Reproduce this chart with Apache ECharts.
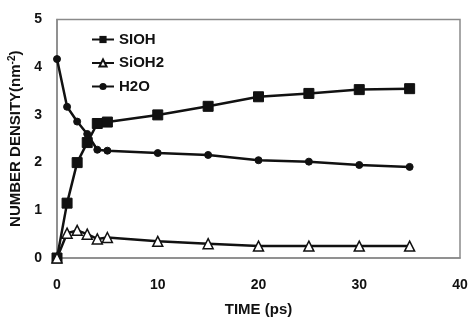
<!DOCTYPE html>
<html>
<head>
<meta charset="utf-8">
<script src="https://cdn.jsdelivr.net/npm/echarts@6/dist/echarts.min.js"></script>
<style>
  html, body { margin: 0; padding: 0; background: #fff; }
  #chart { width: 470px; height: 323px; }
</style>
</head>
<body>
<div id="chart"></div>
<script>
// Simulation time (ps) and surface number densities (nm^-2)
const times = [0, 1, 2, 3, 4, 5, 10, 15, 20, 25, 30, 35];
const sioh  = [0, 1.15, 2.0, 2.42, 2.82, 2.85, 3.0, 3.18, 3.38, 3.45, 3.53, 3.55];
const sioh2 = [0, 0.52, 0.58, 0.5, 0.4, 0.43, 0.35, 0.3, 0.25, 0.25, 0.25, 0.25];
const h2o   = [4.17, 3.17, 2.86, 2.6, 2.27, 2.25, 2.2, 2.16, 2.05, 2.02, 1.95, 1.91];

const xTicks = [0, 10, 20, 30, 40];
const yTicks = [0, 1, 2, 3, 4, 5];

const pairs = (ys) => times.map((t, i) => [t, ys[i]]);
const font = 'Liberation Sans, Arial, sans-serif';

const chart = echarts.init(document.getElementById('chart'));
chart.setOption({
  animation: false,
  grid: {
    left: 57, right: 10, top: 19.5, bottom: 65,
    outerBoundsMode: 'none',
    show: true, borderColor: '#8a8a8a', borderWidth: 1.5
  },
  legend: {
    orient: 'vertical',
    left: 86, top: 27,
    itemWidth: 22, itemHeight: 9, itemGap: 8.5,
    textStyle: { fontFamily: font, fontWeight: 'bold', fontSize: 15, color: '#111' },
    data: ['SIOH', 'SiOH2', 'H2O']
  },
  xAxis: {
    type: 'value', min: 0, max: 40, interval: 10,
    name: 'TIME (ps)', nameLocation: 'middle', nameGap: 44,
    nameTextStyle: { fontFamily: font, fontWeight: 'bold', fontSize: 15, color: '#111' },
    axisLine: { show: true, lineStyle: { color: '#8a8a8a', width: 1.5 } },
    axisTick: { show: false },
    splitLine: { show: false },
    axisLabel: {
      fontFamily: font, fontWeight: 'bold', fontSize: 14, color: '#111', margin: 20,
      formatter: (v) => xTicks.includes(v) ? String(v) : ''
    }
  },
  yAxis: {
    type: 'value', min: 0, max: 5, interval: 1,
    name: 'NUMBER DENSITY(nm{sup|-2})', nameLocation: 'middle', nameGap: 31,
    nameRotate: 90,
    nameTextStyle: {
      fontFamily: font, fontWeight: 'bold', fontSize: 15, color: '#111',
      rich: { sup: { fontFamily: font, fontWeight: 'bold', fontSize: 10, color: '#111', verticalAlign: 'top', padding: [0, 0, 7, 0] } }
    },
    axisLine: { show: true, lineStyle: { color: '#8a8a8a', width: 1.5 } },
    axisTick: { show: false },
    splitLine: { show: false },
    axisLabel: {
      fontFamily: font, fontWeight: 'bold', fontSize: 14, color: '#111', margin: 15,
      formatter: (v) => yTicks.includes(v) ? String(v) : ''
    }
  },
  series: [
    {
      name: 'SIOH', type: 'line', data: pairs(sioh),
      symbol: 'rect', symbolSize: 10,
      lineStyle: { color: '#111', width: 2.5 },
      itemStyle: { color: '#111', borderColor: '#111' },
      z: 3
    },
    {
      name: 'SiOH2', type: 'line', data: pairs(sioh2),
      symbol: 'triangle', symbolSize: 10,
      lineStyle: { color: '#111', width: 2.5 },
      itemStyle: { color: '#fff', borderColor: '#111', borderWidth: 1.5 },
      z: 3
    },
    {
      name: 'H2O', type: 'line', data: pairs(h2o),
      symbol: 'circle', symbolSize: 7,
      lineStyle: { color: '#111', width: 2.5 },
      itemStyle: { color: '#111', borderColor: '#111' },
      z: 3
    }
  ]
});
</script>
</body>
</html>
